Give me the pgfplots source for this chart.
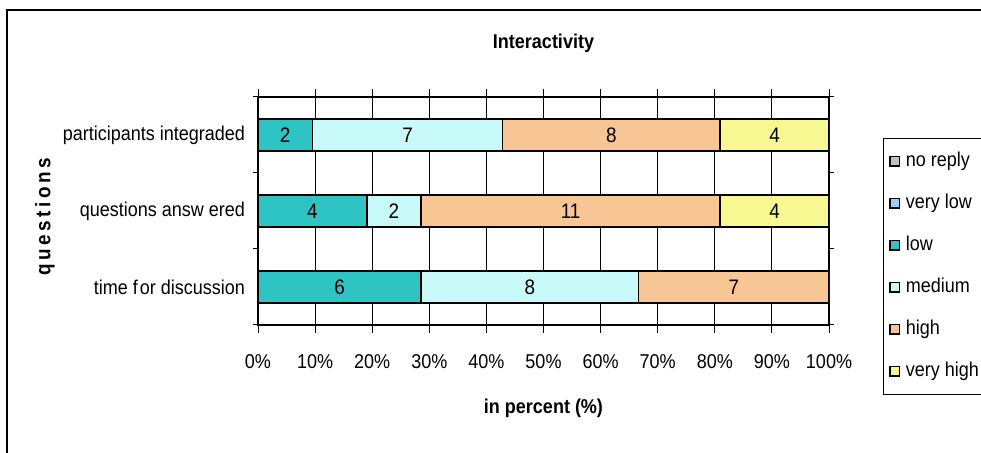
\documentclass[border=0pt]{standalone}
\usepackage{fontspec}
\setmainfont{Liberation Sans}[FakeStretch=0.9]
\usepackage{pgfplots}
\pgfplotsset{compat=1.18}

\definecolor{lowc}{HTML}{2EC4C4}
\definecolor{medc}{HTML}{C8FAFA}
\definecolor{highc}{HTML}{F8C695}
\definecolor{vhc}{HTML}{F8F892}
\definecolor{noc}{HTML}{C0C0C0}
\definecolor{vlc}{HTML}{99CCFF}

\tikzset{seg/.style={draw=black, line width=0.8pt, fill=#1}}

% shared geometry: 1px of the reference = 0.5pt
\pgfplotsset{
  frame/.style={
    at={(129pt,-48.5pt)}, anchor=north west,
    scale only axis, width=285.5pt, height=114pt,
    xmin=0, xmax=100, ymin=-0.5, ymax=2.5,
  },
}

\begin{document}
\begin{tikzpicture}
\useasboundingbox (0,0) rectangle (490.5pt,-226.5pt);
\draw[line width=0.7pt] (3.5pt,-240pt) -- (3.5pt,-5pt) -- (500pt,-5pt);

\begin{axis}[
  frame,
  xbar stacked, bar width=16pt,
  axis line style={black, line width=0.7pt},
  /pgf/number format/assume math mode=true,
  font=\fontsize{10}{12}\selectfont,
  xtick={0,10,...,100},
  xticklabel={\pgfmathprintnumber{\tick}\%},
  xmajorgrids, major grid style={black, line width=0.5pt},
  tick align=outside,
  x tick style={black, line width=0.5pt},
  major tick length=4pt,
  xticklabel style={yshift=-7pt},
  ytick={0,1,2},
  yticklabels={time f\kern1pt or discussion, questions answ\kern2.5pt ered, participants integraded},
  y tick style={draw=none},
  yticklabel style={xshift=1pt},
  extra y ticks={-0.5,0.5,1.5,2.5},
  extra y tick labels={},
  extra y tick style={y tick style={draw=black, line width=0.5pt}, major tick length=2.5pt},
  title={\bfseries Interactivity},
  title style={at={(0.5,1.184)}, anchor=center},
  xlabel={\bfseries in percent (\%)},
  xlabel style={at={(0.5,-0.364)}, anchor=center},
  ylabel={\fontsize{10.5}{12}\selectfont\bfseries\addfontfeature{LetterSpace=17}questions},
  ylabel style={at={(-0.373,0.474)}, anchor=center, rotate=0},
  legend style={name=leg, at={(1.0946,0.820)}, anchor=north west, draw=none, fill=none,
    inner xsep=3pt, inner ysep=6pt, row sep=10pt, column sep=2pt,
    nodes={inner sep=1pt, text height=7pt, text depth=2pt, font=\fontsize{10}{12}\selectfont}},
  legend cell align=left,
  legend image code/.code={\draw[#1, draw=black, line width=0.6pt] (0pt,-2.3pt) rectangle (4.6pt,2.3pt);},
]
\addlegendimage{fill=noc}
\addlegendentry{no reply}
\addlegendimage{fill=vlc}
\addlegendentry{very low}

\addplot[seg=lowc] coordinates {(9.52,2) (19.05,1) (28.57,0)};
\addlegendentry{low}
\addplot[seg=medc] coordinates {(33.33,2) (9.52,1) (38.10,0)};
\addlegendentry{medium}
\addplot[seg=highc] coordinates {(38.10,2) (52.38,1) (33.33,0)};
\addlegendentry{high}
\addplot[seg=vhc] coordinates {(19.05,2) (19.05,1)};
\addlegendentry{very high}
\end{axis}
% legend box runs past the right edge of the picture
\draw[line width=0.5pt] (leg.north west) ++(80pt,0) -- (leg.north west) -- (leg.south west) -- ++(80pt,0);

% value labels, centred in each segment
\begin{axis}[frame, hide axis]
\addplot[only marks, mark=none, nodes near coords, point meta=explicit symbolic,
  every node near coord/.style={anchor=center, font=\fontsize{10.5}{12}\selectfont}]
  coordinates {
  (4.76,2) [2] (26.19,2) [7] (61.90,2) [8] (90.48,2) [4]
  (9.52,1) [4] (23.81,1) [2] (54.76,1) [11] (90.48,1) [4]
  (14.29,0) [6] (47.62,0) [8] (83.33,0) [7]
  };
\end{axis}
\end{tikzpicture}
\end{document}
